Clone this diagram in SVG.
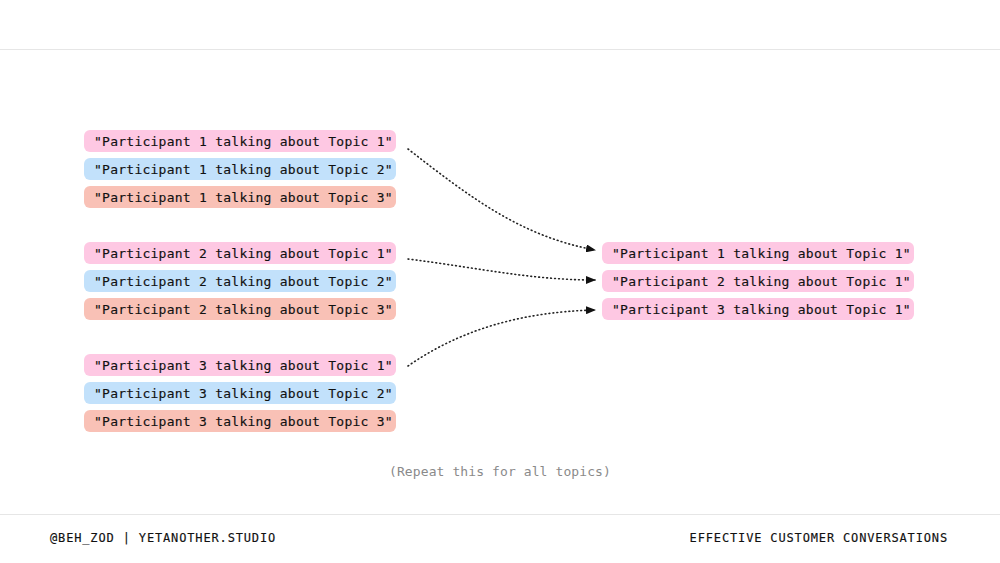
<svg xmlns="http://www.w3.org/2000/svg" width="1000" height="563" viewBox="0 0 1000 563">
<style>
.t{font-family:"DejaVu Sans Mono","Liberation Mono",monospace;font-size:13px;fill:#111;letter-spacing:0.25px;stroke:#111;stroke-width:0.15px}
.pink{fill:#fec8e3}
.blue{fill:#c2e1fb}
.sal{fill:#f9c1b6}
.f{font-family:"DejaVu Sans Mono","Liberation Mono",monospace;font-size:12px;fill:#111;letter-spacing:0.85px;stroke:#111;stroke-width:0.15px}
.note{font-family:"DejaVu Sans Mono","Liberation Mono",monospace;font-size:13px;fill:#8a8a8a;letter-spacing:0.1px}
.c{fill:none;stroke:#222;stroke-width:1.6;stroke-dasharray:0.8 3.2;stroke-linecap:round}
</style>
<defs>
<marker id="ah" markerWidth="10" markerHeight="8" refX="9" refY="4" orient="auto" markerUnits="userSpaceOnUse">
<path d="M0,0 L10,4 L0,8 Z" fill="#111"/>
</marker>
</defs>
<rect width="1000" height="563" fill="#fff"/>
<line x1="0" y1="49.5" x2="1000" y2="49.5" stroke="#e6e6e6" stroke-width="1"/>
<line x1="0" y1="514.5" x2="1000" y2="514.5" stroke="#e6e6e6" stroke-width="1"/>

<g id="p1t1"><rect class="pink" x="84" y="130" width="312" height="22" rx="6"/><text class="t" x="94" y="145.5">"Participant 1 talking about Topic 1"</text></g>
<g id="p1t2"><rect class="blue" x="84" y="158" width="312" height="22" rx="6"/><text class="t" x="94" y="173.5">"Participant 1 talking about Topic 2"</text></g>
<g id="p1t3"><rect class="sal" x="84" y="186" width="312" height="22" rx="6"/><text class="t" x="94" y="201.5">"Participant 1 talking about Topic 3"</text></g>

<g id="p2t1"><rect class="pink" x="84" y="242" width="312" height="22" rx="6"/><text class="t" x="94" y="257.5">"Participant 2 talking about Topic 1"</text></g>
<g id="p2t2"><rect class="blue" x="84" y="270" width="312" height="22" rx="6"/><text class="t" x="94" y="285.5">"Participant 2 talking about Topic 2"</text></g>
<g id="p2t3"><rect class="sal" x="84" y="298" width="312" height="22" rx="6"/><text class="t" x="94" y="313.5">"Participant 2 talking about Topic 3"</text></g>

<g id="p3t1"><rect class="pink" x="84" y="354" width="312" height="22" rx="6"/><text class="t" x="94" y="369.5">"Participant 3 talking about Topic 1"</text></g>
<g id="p3t2"><rect class="blue" x="84" y="382" width="312" height="22" rx="6"/><text class="t" x="94" y="397.5">"Participant 3 talking about Topic 2"</text></g>
<g id="p3t3"><rect class="sal" x="84" y="410" width="312" height="22" rx="6"/><text class="t" x="94" y="425.5">"Participant 3 talking about Topic 3"</text></g>

<g id="r1"><rect class="pink" x="602" y="242" width="312" height="22" rx="6"/><text class="t" x="612" y="257.5">"Participant 1 talking about Topic 1"</text></g>
<g id="r2"><rect class="pink" x="602" y="270" width="312" height="22" rx="6"/><text class="t" x="612" y="285.5">"Participant 2 talking about Topic 1"</text></g>
<g id="r3"><rect class="pink" x="602" y="298" width="312" height="22" rx="6"/><text class="t" x="612" y="313.5">"Participant 3 talking about Topic 1"</text></g>

<g id="connectors">
<path class="c" d="M408,149 C470,197 520,236 595,250" marker-end="url(#ah)"/>
<path class="c" d="M408,259 C480,268 530,280 595,280" marker-end="url(#ah)"/>
<path class="c" d="M408,366 C460,330 520,312 595,310" marker-end="url(#ah)"/>
</g>

<text class="note" x="500" y="476" text-anchor="middle">(Repeat this for all topics)</text>
<text class="f" x="50" y="541.5">@BEH_ZOD | YETANOTHER.STUDIO</text>
<text class="f" x="948" y="541.5" text-anchor="end">EFFECTIVE CUSTOMER CONVERSATIONS</text>
</svg>
